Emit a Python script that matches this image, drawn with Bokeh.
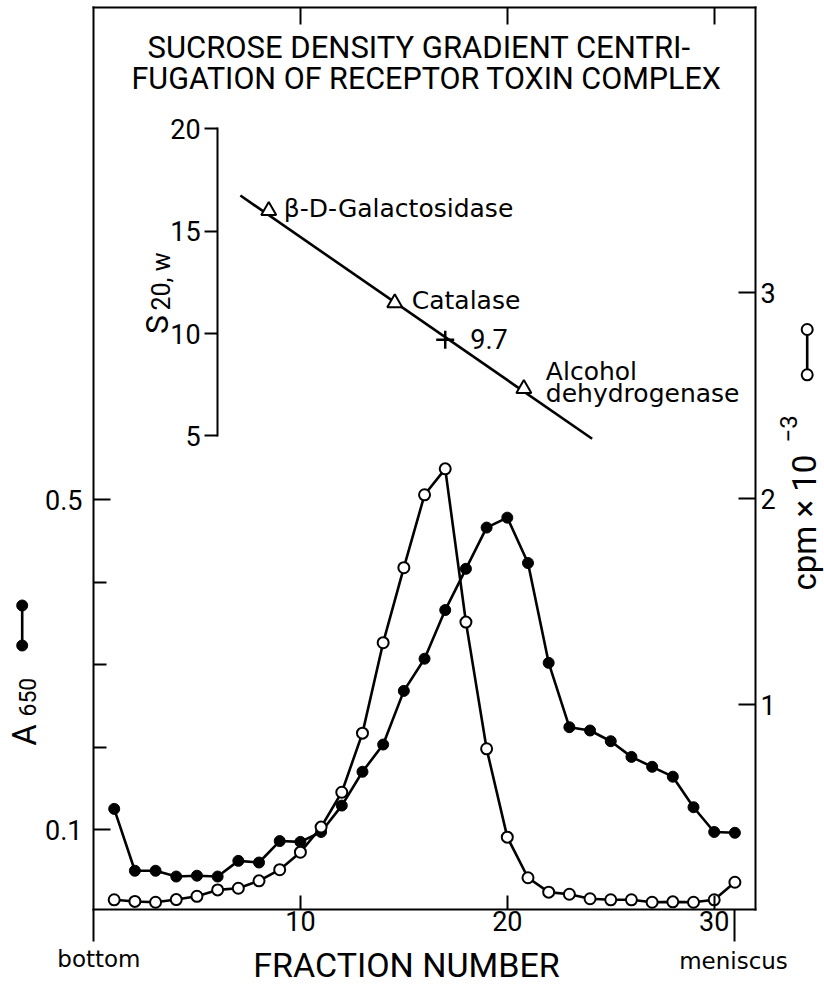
import math
from bokeh.plotting import figure
from bokeh.models import Range1d, LinearAxis, FixedTicker, Label
from bokeh.core.properties import value
from bokeh.embed import file_html
from bokeh.resources import INLINE

# ---------------- data ----------------
fraction = [1, 2, 3, 4, 5, 6, 7, 8, 9, 10, 11, 12, 13, 14, 15, 16,
            17, 18, 19, 20, 21, 22, 23, 24, 25, 26, 27, 28, 29, 30, 31]
a650 = [0.125, 0.050, 0.050, 0.043, 0.044, 0.043, 0.062, 0.060, 0.086, 0.085,
        0.097, 0.129, 0.170, 0.203, 0.268, 0.307, 0.366, 0.416, 0.466, 0.478,
        0.423, 0.302, 0.224, 0.220, 0.207, 0.188, 0.176, 0.164, 0.127, 0.097,
        0.096]
cpm = [0.052, 0.044, 0.040, 0.053, 0.069, 0.100, 0.108, 0.144, 0.198, 0.283,
       0.405, 0.574, 0.861, 1.300, 1.664, 2.018, 2.144, 1.400, 0.785, 0.356,
       0.159, 0.089, 0.079, 0.057, 0.052, 0.052, 0.040, 0.042, 0.040, 0.052,
       0.137]

std_names = ["\u03b2-D-Galactosidase", "Catalase", "Alcohol\ndehydrogenase"]
std_fraction = [8.47, 14.56, 20.8]
std_s = [16.0, 11.5, 7.3]
unknown_fraction = [17.0]
unknown_s = [9.7]
unknown_label = ["9.7"]
fit_fraction = [7.1, 24.1]
fit_s = [16.74, 4.86]

x_ticks = [10, 20, 30]
x_end_marks = [0, 31]
a650_ticks = [0.1, 0.5]
a650_minor_ticks = [0.2, 0.3, 0.4]
cpm_ticks = [1, 2, 3]
s_ticks = [5, 10, 15, 20]
title_lines = ["SUCROSE DENSITY GRADIENT CENTRI-",
               "FUGATION OF RECEPTOR TOXIN COMPLEX"]

# ---------------- layout geometry (canvas pixels) ----------------
W, H = 824, 986
FL, FR, FT, FB = 93, 755, 7, 909      # box of the main plot
XPX = 20.69                            # px per fraction
A0, APX = 911.5, 825.0                 # A650 zero and px per unit
C0, CPX = 910.0, 206.0                 # cpm zero and px per unit
S20, SPX = 128.3, 20.47                # S=20 position and px per S unit
INSET_X = 6                            # fraction where inset axis stands


def px_x(px):
    return (px - FL) / XPX


def px_y(py):
    return (A0 - py) / APX


def px_c(py):
    return (C0 - py) / CPX


def px_s(py):
    return 20 + (S20 - py) / SPX


FONT = "Roboto"
LFONT = "DejaVu Sans"

p = figure(width=W, height=H,
           x_range=Range1d(px_x(0), px_x(W)),
           y_range=Range1d(px_y(H), px_y(0)),
           x_axis_location=None, y_axis_location=None,
           output_backend="svg", toolbar_location=None, min_border=0)
p.extra_y_ranges = {
    "cpm": Range1d(px_c(H), px_c(0)),
    "s": Range1d(px_s(H), px_s(0)),
}
p.grid.visible = False
p.outline_line_color = None
p.background_fill_color = "white"
p.border_fill_color = "white"


def make_axis(ticker, **kw):
    ax = LinearAxis(ticker=ticker, **kw)
    ax.axis_line_width = 2
    ax.axis_line_color = "black"
    ax.axis_line_cap = "square"
    ax.major_tick_line_width = 2
    ax.minor_tick_line_width = 2
    ax.major_tick_line_color = "black"
    ax.minor_tick_line_color = "black"
    ax.major_label_text_font = FONT
    ax.major_label_text_font_size = "27px"
    ax.major_label_text_color = "black"
    ax.major_tick_out = 0
    ax.minor_tick_out = 0
    ax.major_tick_in = 0
    ax.minor_tick_in = 0
    return ax


# bottom axis
xa = make_axis(FixedTicker(ticks=x_ticks), fixed_location=px_y(FB),
               bounds=(px_x(FL), px_x(FR)))
xa.major_tick_in = 14
xa.major_label_standoff = 1
p.add_layout(xa, "below")

# long marks at "bottom" and "meniscus"
xe = make_axis(FixedTicker(ticks=[], minor_ticks=x_end_marks),
               fixed_location=px_y(FB))
xe.axis_line_color = None
xe.minor_tick_out = 32
p.add_layout(xe, "below")

# top axis (ticks only)
ta = make_axis(FixedTicker(ticks=[], minor_ticks=x_ticks),
               fixed_location=px_y(FT), bounds=(px_x(FL), px_x(FR)))
ta.minor_tick_in = 17
p.add_layout(ta, "above")

# left axis (A650)
ya = make_axis(FixedTicker(ticks=a650_ticks, minor_ticks=a650_minor_ticks),
               fixed_location=px_x(FL), bounds=(px_y(FB), px_y(FT)))
ya.major_tick_in = 17
ya.minor_tick_in = 13
ya.major_label_standoff = 11
p.add_layout(ya, "left")

# right axis (cpm)
ra = make_axis(FixedTicker(ticks=cpm_ticks), y_range_name="cpm",
               fixed_location=px_x(FR), bounds=(px_c(FB), px_c(FT)))
ra.major_tick_in = 17
ra.major_label_standoff = 5
p.add_layout(ra, "right")

# inset S20,w axis
sa = make_axis(FixedTicker(ticks=s_ticks), y_range_name="s",
               fixed_location=INSET_X, bounds=(min(s_ticks), max(s_ticks)))
sa.major_tick_out = 13
sa.major_label_standoff = 4
p.add_layout(sa, "left")

# ---------------- main data ----------------
p.line(fraction, a650, line_width=2.6, line_color="black")
p.scatter(fraction, a650, size=11, marker="circle",
          fill_color="black", line_color="black", line_width=1)
p.line(fraction, cpm, y_range_name="cpm", line_width=2.6, line_color="black")
p.scatter(fraction, cpm, y_range_name="cpm", size=11, marker="circle",
          fill_color="white", line_color="black", line_width=2)

# ---------------- inset ----------------
p.line(fit_fraction, fit_s, y_range_name="s", line_width=2.6, line_color="black")
p.scatter(std_fraction, std_s, y_range_name="s", marker="triangle", size=15,
          fill_color="white", line_color="black", line_width=2)
p.scatter(unknown_fraction, unknown_s, y_range_name="s", marker="cross",
          size=18, line_color="black", line_width=2.5)

std_offsets = [(15, [-2]), (17, [-2]), (22, [-17, 5])]
for f, s, name, (dx, dys) in zip(std_fraction, std_s, std_names, std_offsets):
    for line_txt, dy in zip(name.split("\n"), dys):
        p.text(x=[f], y=[s], text=[line_txt], y_range_name="s",
               x_offset=dx, y_offset=dy, text_font=value(LFONT),
               text_font_size="25px", text_baseline="middle",
               text_align="left", text_color="black")
p.text(x=unknown_fraction, y=unknown_s, text=unknown_label, y_range_name="s",
       x_offset=25, y_offset=-1, text_font=value(FONT), text_font_size="27px",
       text_baseline="middle", text_align="left", text_color="black")


# ---------------- texts (positions are visual centre lines) ----------------
def add_label(px, py, text, size, font=FONT, align="left", angle=0.0):
    p.add_layout(Label(x=px_x(px), y=px_y(py), text=text, text_font=font,
                       text_font_size=size, text_align=align,
                       text_baseline="middle", angle=angle,
                       text_color="black"))


add_label(147, 47, title_lines[0], "31px")
add_label(131, 78, title_lines[1], "30.5px")
add_label(406, 964, "FRACTION NUMBER", "34px", align="center")
add_label(140, 958, "bottom", "23px", font=LFONT, align="right")
add_label(733, 960, "meniscus", "23px", font=LFONT, align="center")

# A650 (left axis title)
add_label(23.5, 734.5, "A", "33px", align="center", angle=math.pi / 2)
add_label(27, 716, "650", "23px", angle=math.pi / 2)
# cpm x 10^-3 (right axis title)
add_label(804, 590, "cpm \u00d7 10", "33px", angle=math.pi / 2)
add_label(788, 442, "\u22123", "24px", angle=math.pi / 2)
# S20,w (inset axis title)
add_label(156, 324, "S", "32px", align="center", angle=math.pi / 2)
add_label(161, 310, "20, w", "25px", angle=math.pi / 2)

# series keys beside the axis titles (dumbbell symbols)
key_left_x = [px_x(21.7)] * 2
key_left_y = [px_y(605), px_y(645)]
p.line(key_left_x, key_left_y, line_width=2.6, line_color="black")
p.scatter(key_left_x, key_left_y, size=11, marker="circle",
          fill_color="black", line_color="black")
key_right_x = [px_x(806.7)] * 2
key_right_y = [px_c(329), px_c(374.3)]
p.line(key_right_x, key_right_y, y_range_name="cpm", line_width=2.6,
       line_color="black")
p.scatter(key_right_x, key_right_y, y_range_name="cpm", size=11,
          marker="circle", fill_color="white", line_color="black",
          line_width=2)

open("out.html", "w").write(file_html(p, INLINE))
